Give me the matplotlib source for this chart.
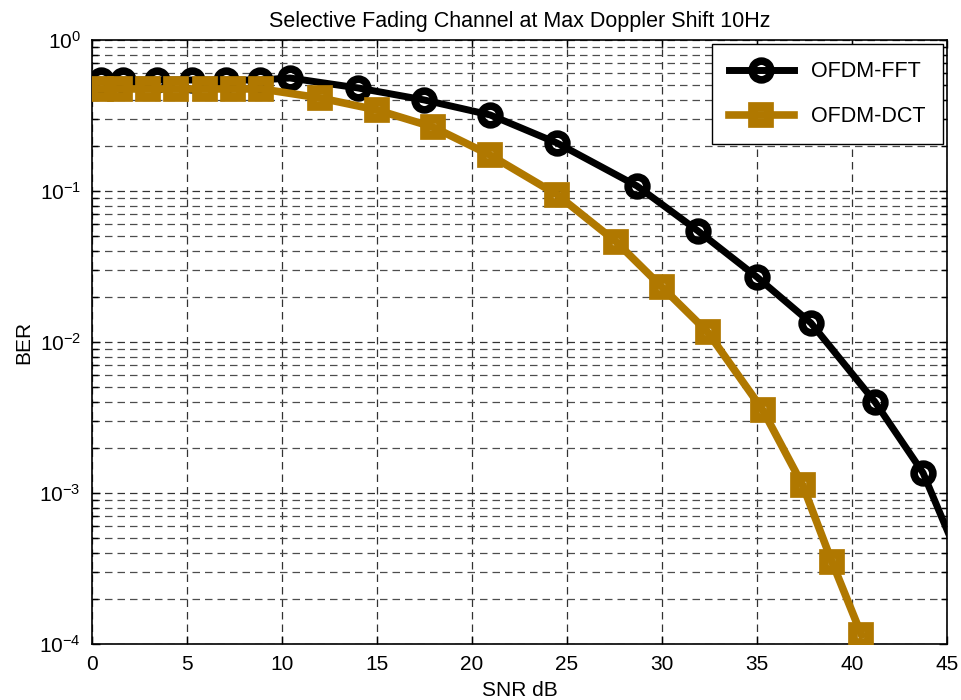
import matplotlib
matplotlib.use("Agg")
import matplotlib.pyplot as plt
from matplotlib.ticker import LogLocator, NullFormatter, FixedLocator

plt.rcParams['font.family'] = ['Liberation Sans', 'DejaVu Sans']
plt.rcParams['mathtext.fontset'] = 'custom'
plt.rcParams['mathtext.rm'] = 'Liberation Sans'
plt.rcParams['mathtext.it'] = 'Liberation Sans:italic'
plt.rcParams['mathtext.bf'] = 'Liberation Sans:bold'
plt.rcParams['mathtext.default'] = 'regular'

snr_fft = [0.45, 1.63, 3.42, 5.26, 7.05, 8.84, 10.42, 14.0, 17.47, 20.95, 24.47, 28.68, 31.9, 35.0, 37.84, 41.21, 43.74, 47.2]
ber_fft = [0.543, 0.543, 0.543, 0.543, 0.543, 0.543, 0.560, 0.481, 0.401, 0.319, 0.208, 0.108, 0.0543, 0.0269, 0.01336, 0.00401, 0.00136, 0.000125]

snr_dct = [0.46, 1.46, 2.95, 4.42, 5.93, 7.42, 8.91, 12.0, 15.0, 17.95, 20.95, 24.5, 27.6, 30.0, 32.4, 35.3, 37.4, 38.95, 40.5]
ber_dct = [0.474, 0.474, 0.474, 0.474, 0.474, 0.474, 0.474, 0.413, 0.344, 0.265, 0.173, 0.0941, 0.0459, 0.0231, 0.01164, 0.00355, 0.00113, 0.000349, 0.000115]

x_ticks = [0, 5, 10, 15, 20, 25, 30, 35, 40, 45]
title = "Selective Fading Channel at Max Doppler Shift 10Hz"
labels = ["OFDM-FFT", "OFDM-DCT"]

fig = plt.figure(figsize=(9.62, 7.0), dpi=100)
ax = fig.add_axes([0.0956, 0.08, 0.8888, 0.8629])

gold = '#B07800'
ax.plot(snr_fft, ber_fft, color='black', lw=5, marker='o', ms=13.5, mew=5.5,
        mfc='none', mec='black', label=labels[0], zorder=3)
ax.plot(snr_dct, ber_dct, color=gold, lw=5.5, marker='s', ms=11.5, mew=7,
        mfc='none', mec=gold, label=labels[1], zorder=3)

ax.set_yscale('log')
ax.set_xlim(0, 45)
ax.set_ylim(1e-4, 1)
ax.xaxis.set_major_locator(FixedLocator(x_ticks))
ax.yaxis.set_major_locator(LogLocator(base=10, numticks=10))
ax.yaxis.set_minor_locator(LogLocator(base=10, subs=range(2, 10), numticks=20))
ax.yaxis.set_minor_formatter(NullFormatter())

ax.grid(True, which='major', axis='both', color='0.2', linestyle=(0, (6, 4)), lw=0.9)
ax.grid(True, which='minor', axis='y', color='0.3', linestyle=(0, (6, 4)), lw=0.9)
ax.set_axisbelow(True)

ax.tick_params(which='both', direction='in', top=True, right=True, labelsize=15)
ax.tick_params(which='major', length=6, width=1, pad=8)
ax.tick_params(which='minor', length=4, width=1)
for s in ax.spines.values():
    s.set_linewidth(1.2)

ax.set_title(title, fontsize=15.5, pad=9)
ax.set_xlabel("SNR dB", fontsize=15, labelpad=5)
ax.set_ylabel("BER", fontsize=15, labelpad=4)

leg = ax.legend(loc='upper right', fontsize=15.5, handlelength=3.0, fancybox=False,
                edgecolor='black', framealpha=1, borderpad=0.8, labelspacing=1.1,
                borderaxespad=0.2, handletextpad=0.8)
leg.get_frame().set_linewidth(1.0)

fig.savefig("out.png", dpi=100)
